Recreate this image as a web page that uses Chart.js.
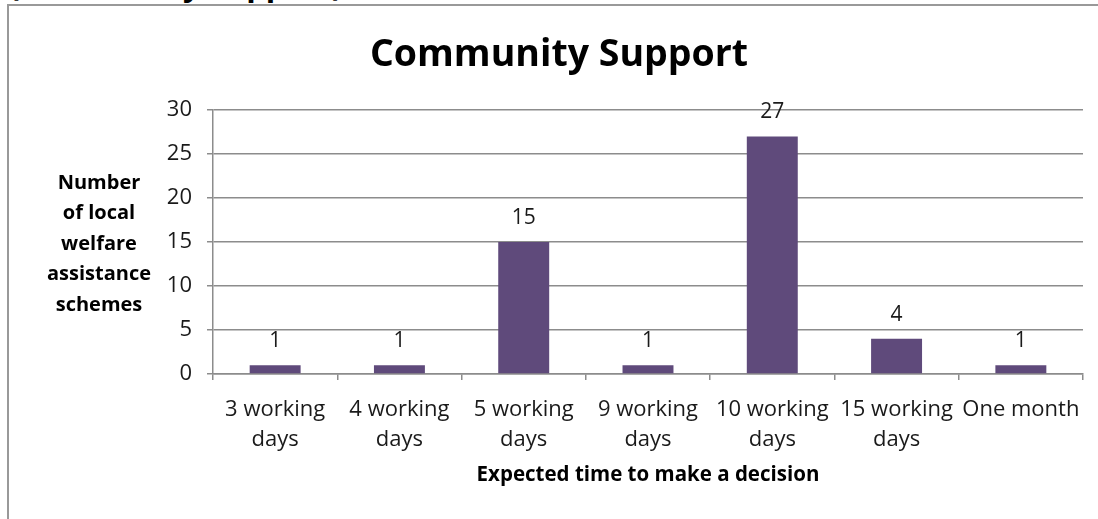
<!DOCTYPE html>
<html>
<head>
<meta charset="utf-8">
<script src="https://cdn.jsdelivr.net/npm/chart.js@4"></script>
<style>
  html, body { margin: 0; padding: 0; background: #fff; overflow: hidden; }
  #wrap { position: relative; width: 1098px; height: 519px; }
  #heading {
    position: absolute; left: 9px; top: -37px;
    font: bold 31px "Open Sans", sans-serif; color: #000; white-space: nowrap;
  }
  #frame {
    position: absolute; left: 7px; top: 4px; width: 1120px; height: 540px;
    border: 2px solid #999; box-sizing: border-box; background: transparent;
  }
  canvas { position: absolute; left: 0; top: 0; }
</style>
</head>
<body>
<div id="wrap">
  <div id="heading">(Community Support)</div>
  <div id="frame"></div>
  <canvas id="chart" width="1098" height="519"></canvas>
</div>
<script>
const categories = [
  ['3 working', 'days'],
  ['4 working', 'days'],
  ['5 working', 'days'],
  ['9 working', 'days'],
  ['10 working', 'days'],
  ['15 working', 'days'],
  'One month'
];
const schemeCounts = [1, 1, 15, 1, 27, 4, 1];
const yTicks = [0, 5, 10, 15, 20, 25, 30];

const chartTitle = 'Community Support';
const yTitle = ['Number', 'of local', 'welfare', 'assistance', 'schemes'];
const xTitle = 'Expected time to make a decision';

const textColor = '#1a1a1a';
const gridColor = '#8c8c8c';
const family = '"Open Sans", sans-serif';

// titles and value labels drawn on the canvas
const extraText = {
  id: 'extraText',
  afterDatasetsDraw(chart) {
    const ctx = chart.ctx;
    const area = chart.chartArea;
    ctx.save();
    ctx.fillStyle = textColor;
    ctx.textAlign = 'center';
    ctx.textBaseline = 'middle';

    // value above each bar
    ctx.font = '21px ' + family;
    chart.getDatasetMeta(0).data.forEach((bar, i) => {
      ctx.fillText(String(schemeCounts[i]), bar.x, bar.y - 24);
    });

    ctx.fillStyle = '#000';
    ctx.font = 'bold 37.5px ' + family;
    ctx.fillText(chartTitle, 559, 55);

    ctx.font = 'bold 20px ' + family;
    yTitle.forEach((line, i) => ctx.fillText(line, 99, 183 + i * 30.5));

    ctx.font = 'bold 20.5px ' + family;
    ctx.fillText(xTitle, (area.left + area.right) / 2, 475);
    ctx.restore();
  }
};

new Chart(document.getElementById('chart'), {
  type: 'bar',
  data: {
    labels: categories,
    datasets: [{
      data: schemeCounts,
      backgroundColor: '#5f4a7b',
      categoryPercentage: 0.41,
      barPercentage: 1
    }]
  },
  options: {
    responsive: false,
    animation: false,
    layout: { padding: { top: 110, right: 15, left: 0, bottom: 0 } },
    plugins: { legend: { display: false }, tooltip: { enabled: false } },
    scales: {
      x: {
        afterFit(scale) { scale.height = 145; },
        grid: {
          offset: true,
          drawOnChartArea: false,
          color: gridColor,
          lineWidth: 1.5,
          tickLength: 6
        },
        border: { color: gridColor, width: 1.5 },
        ticks: {
          color: textColor,
          font: { family: family, size: 22, lineHeight: 1.36 },
          padding: 15,
          maxRotation: 0,
          autoSkip: false
        }
      },
      y: {
        min: 0,
        max: 30,
        afterFit(scale) { scale.width = 213; },
        afterBuildTicks(scale) { scale.ticks = yTicks.map(v => ({ value: v })); },
        grid: { color: gridColor, lineWidth: 1.5, tickLength: 6 },
        border: { color: gridColor, width: 1.5 },
        ticks: {
          color: textColor,
          font: { family: family, size: 22 },
          padding: 15
        }
      }
    }
  },
  plugins: [extraText]
});
</script>
</body>
</html>
